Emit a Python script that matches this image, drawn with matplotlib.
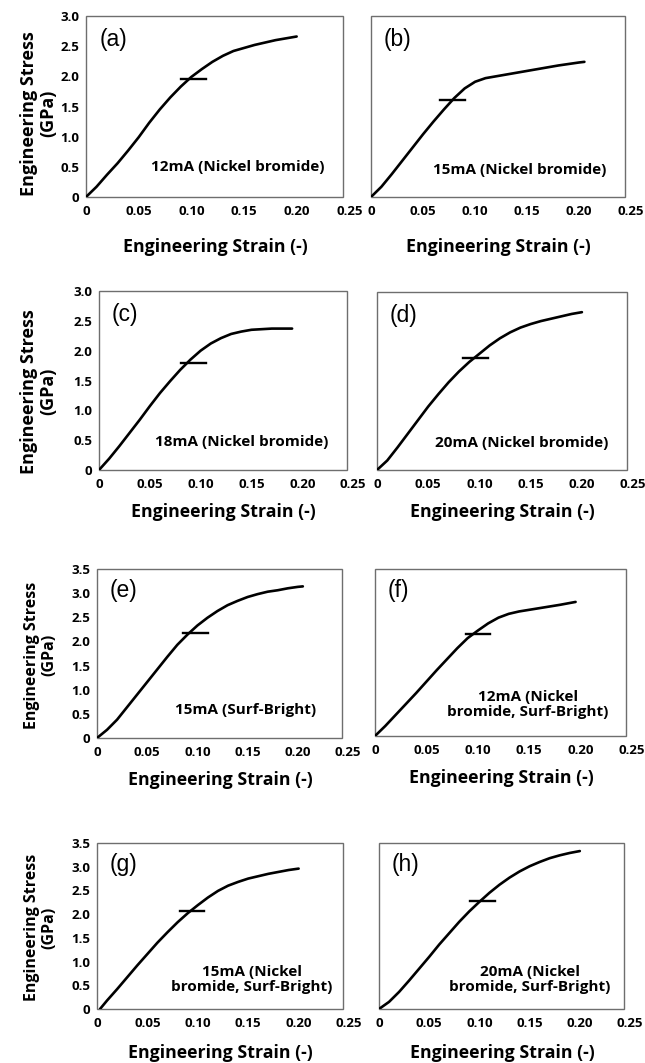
import numpy as np
import matplotlib
matplotlib.use('Agg')
import matplotlib.pyplot as plt
from matplotlib.patches import Rectangle

plt.rcParams['font.family'] = ['Open Sans', 'DejaVu Sans']

# stress-strain curves, strain (-) and stress (GPa)
strain_a = [0, 0.01, 0.02, 0.03, 0.04, 0.05, 0.06, 0.07, 0.08, 0.09, 0.10, 0.11,
            0.12, 0.13, 0.14, 0.15, 0.16, 0.17, 0.18, 0.19, 0.20]
stress_a = [0, 0.17, 0.37, 0.56, 0.77, 0.99, 1.23, 1.45, 1.65, 1.83, 1.99, 2.12,
            2.24, 2.34, 2.42, 2.47, 2.52, 2.56, 2.60, 2.63, 2.66]

strain_b = [0, 0.01, 0.02, 0.03, 0.04, 0.05, 0.06, 0.07, 0.08, 0.09, 0.10, 0.11,
            0.12, 0.14, 0.16, 0.18, 0.20, 0.205]
stress_b = [0, 0.17, 0.38, 0.60, 0.82, 1.04, 1.25, 1.45, 1.64, 1.80, 1.91, 1.97,
            2.00, 2.06, 2.12, 2.18, 2.23, 2.24]

strain_c = [0, 0.01, 0.02, 0.03, 0.04, 0.05, 0.06, 0.07, 0.08, 0.09, 0.10, 0.11,
            0.12, 0.13, 0.14, 0.15, 0.16, 0.17, 0.18, 0.19]
stress_c = [0, 0.19, 0.40, 0.62, 0.84, 1.07, 1.29, 1.49, 1.68, 1.85, 2.00, 2.12,
            2.21, 2.28, 2.32, 2.35, 2.36, 2.37, 2.37, 2.37]

strain_d = [0, 0.01, 0.02, 0.03, 0.04, 0.05, 0.06, 0.07, 0.08, 0.09, 0.10, 0.11,
            0.12, 0.13, 0.14, 0.15, 0.16, 0.17, 0.18, 0.19, 0.20]
stress_d = [0, 0.16, 0.38, 0.61, 0.84, 1.07, 1.28, 1.48, 1.66, 1.82, 1.96, 2.10,
            2.22, 2.32, 2.40, 2.46, 2.51, 2.55, 2.59, 2.63, 2.66]

strain_e = [0, 0.01, 0.02, 0.03, 0.04, 0.05, 0.06, 0.07, 0.08, 0.09, 0.10, 0.11,
            0.12, 0.13, 0.14, 0.15, 0.16, 0.17, 0.18, 0.19, 0.20, 0.205]
stress_e = [0, 0.17, 0.38, 0.64, 0.90, 1.16, 1.42, 1.68, 1.93, 2.14, 2.33, 2.49,
            2.63, 2.75, 2.84, 2.92, 2.98, 3.03, 3.06, 3.10, 3.13, 3.14]

strain_f = [0, 0.01, 0.02, 0.03, 0.04, 0.05, 0.06, 0.07, 0.08, 0.09, 0.10, 0.11,
            0.12, 0.13, 0.14, 0.16, 0.18, 0.195]
stress_f = [0, 0.21, 0.44, 0.67, 0.90, 1.14, 1.38, 1.61, 1.84, 2.05, 2.21, 2.36,
            2.48, 2.56, 2.61, 2.68, 2.75, 2.81]

strain_g = [0.003, 0.01, 0.02, 0.03, 0.04, 0.05, 0.06, 0.07, 0.08, 0.09, 0.10, 0.11,
            0.12, 0.13, 0.14, 0.15, 0.16, 0.17, 0.18, 0.19, 0.20]
stress_g = [0, 0.18, 0.42, 0.67, 0.92, 1.16, 1.40, 1.62, 1.83, 2.02, 2.19, 2.35,
            2.49, 2.60, 2.68, 2.75, 2.80, 2.85, 2.89, 2.93, 2.96]

strain_h = [0, 0.01, 0.02, 0.03, 0.04, 0.05, 0.06, 0.07, 0.08, 0.09, 0.10, 0.11,
            0.12, 0.13, 0.14, 0.15, 0.16, 0.17, 0.18, 0.19, 0.20]
stress_h = [0, 0.15, 0.36, 0.60, 0.85, 1.10, 1.36, 1.60, 1.84, 2.06, 2.26, 2.45,
            2.62, 2.77, 2.90, 3.01, 3.10, 3.18, 3.24, 3.29, 3.33]

# yield markers: strain span and stress level
yield_lo = [0.090, 0.066, 0.081, 0.084, 0.086, 0.088, 0.082, 0.091]
yield_hi = [0.114, 0.090, 0.105, 0.108, 0.111, 0.112, 0.106, 0.116]
yield_stress = [1.96, 1.60, 1.80, 1.88, 2.18, 2.14, 2.07, 2.27]

letters = ['(a)', '(b)', '(c)', '(d)', '(e)', '(f)', '(g)', '(h)']
conditions = ['12mA (Nickel bromide)', '15mA (Nickel bromide)',
              '18mA (Nickel bromide)', '20mA (Nickel bromide)',
              '15mA (Surf-Bright)', '12mA (Nickel\nbromide, Surf-Bright)',
              '15mA (Nickel\nbromide, Surf-Bright)', '20mA (Nickel\nbromide, Surf-Bright)']

x_ticks = [0, 0.05, 0.10, 0.15, 0.20, 0.25]
x_ticklabels = ['0', '0.05', '0.10', '0.15', '0.20', '0.25']
y_ticks_30 = [0, 0.5, 1.0, 1.5, 2.0, 2.5, 3.0]
y_ticks_35 = [0, 0.5, 1.0, 1.5, 2.0, 2.5, 3.0, 3.5]

strains = [strain_a, strain_b, strain_c, strain_d, strain_e, strain_f, strain_g, strain_h]
stresses = [stress_a, stress_b, stress_c, stress_d, stress_e, stress_f, stress_g, stress_h]

W, H = 645, 1063
fig = plt.figure(figsize=(W / 100, H / 100), dpi=100)

# frame boxes in pixels: left, top, right, bottom
boxes = [(86, 16, 343, 197), (371, 16, 625, 197),
         (99, 291, 347, 470), (377, 292, 627, 470),
         (97, 569, 342, 738), (375, 569, 626, 736),
         (97, 843, 343, 1009), (379, 843, 624, 1009)]
FRAME_X = 0.244   # strain where the grey frame ends
text_pos = [(0.59, 0.165), (0.587, 0.15), (0.575, 0.155), (0.58, 0.15),
            (0.607, 0.166), (0.61, 0.186), (0.63, 0.175), (0.616, 0.18)]
ylab_y = [0.46, 0.44, 0.49, 0.49]
ylab_size = [13, 13, 11.5, 11.5]
xlab_y = [-0.227, -0.185, -0.195, -0.208]
YLAB_PX = 57      # right edge of the stress label, pixels from the left

for i in range(8):
    l, t, r, b = boxes[i]
    w = (r - l) * 0.25 / FRAME_X
    ax = fig.add_axes([l / W, 1 - b / H, w / W, (b - t) / H])
    ymax = 3.0 if i < 4 else 3.5
    ax.plot(strains[i], stresses[i], color='black', lw=1.9,
            solid_capstyle='round', solid_joinstyle='round')
    ax.plot([yield_lo[i], yield_hi[i]], [yield_stress[i], yield_stress[i]],
            color='black', lw=1.7)
    ax.set_xlim(0, 0.25)
    ax.set_ylim(0, ymax)
    for s in ax.spines.values():
        s.set_visible(False)
    ax.add_patch(Rectangle((0, 0), FRAME_X / 0.25, 1, transform=ax.transAxes,
                           fill=False, edgecolor='#6e6e6e', lw=1.0, clip_on=False))
    ax.set_xticks(x_ticks)
    ax.set_xticklabels(x_ticklabels, fontsize=9.5, fontweight='bold')
    ax.tick_params(length=0, pad=6)
    yt = y_ticks_30 if i < 4 else y_ticks_35
    if i % 2 == 0:
        ax.set_yticks(yt)
        ax.set_yticklabels(['0' if v == 0 else '%.1f' % v for v in yt],
                           fontsize=9.5, fontweight='bold')
        ax.tick_params(axis='y', pad=5)
        ax.set_ylabel('Engineering Stress\n(GPa)', fontsize=ylab_size[i // 2],
                      fontweight='bold', linespacing=1.1)
        ax.yaxis.set_label_coords((YLAB_PX - l) / w, ylab_y[i // 2])
    else:
        ax.set_yticks([])
    ax.set_xlabel('Engineering Strain (-)', fontsize=12.8, fontweight='bold')
    ax.xaxis.set_label_coords(0.49, xlab_y[i // 2])
    ax.text(0.05, 0.87, letters[i], transform=ax.transAxes, fontsize=16.5,
            family='Liberation Sans', ha='left', va='center')
    tx, ty = text_pos[i]
    ax.text(tx * FRAME_X / 0.25, ty, conditions[i], transform=ax.transAxes,
            fontsize=11, fontweight='bold', ha='center', va='center',
            linespacing=1.1)

fig.savefig('out.png', dpi=100)
